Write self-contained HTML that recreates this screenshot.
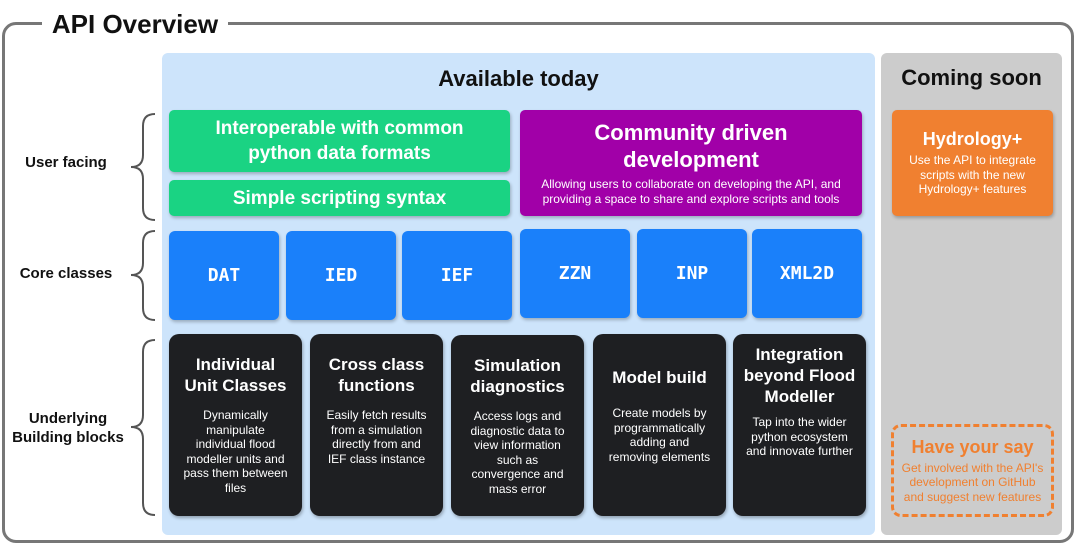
<!DOCTYPE html>
<html><head><meta charset="utf-8"><style>
*{margin:0;padding:0;box-sizing:border-box}
body{width:1076px;height:545px;background:#fff;position:relative;overflow:hidden;font-family:"Liberation Sans","DejaVu Sans",sans-serif}
.a{position:absolute}
.c{display:flex;flex-direction:column;align-items:center;justify-content:center;text-align:center;color:#fff}
.g{background:#1ad383;border-radius:5px;font-weight:bold;font-size:19px;line-height:25px;box-shadow:1px 2px 3px rgba(0,0,0,.25)}
.b{background:#1a80fa;border-radius:6px;font-weight:bold;font-size:18px;font-family:"DejaVu Sans Mono","Liberation Mono",monospace;box-shadow:1px 2px 3px rgba(0,0,0,.25)}
.d{background:#1e1f22;border-radius:10px;justify-content:flex-start;box-shadow:1px 2px 3px rgba(0,0,0,.3)}
.d h3{font-size:17px;line-height:21px;margin-top:20px}
.d p{font-size:12px;line-height:14.6px;margin-top:12px;padding:0 12px}
.l{font-size:15px;font-weight:bold;color:#111;text-align:center;width:120px}
</style></head><body>
<div class="a" style="left:2px;top:22px;width:1072px;height:521px;border:3px solid #777;border-radius:14px"></div>
<div class="a" style="left:42px;top:8px;width:186px;height:30px;background:#fff;font-size:26px;font-weight:bold;color:#111;text-align:center;line-height:32px">API Overview</div>
<div class="a" style="left:162px;top:53px;width:713px;height:482px;background:#cde4fb;border-radius:6px"></div>
<div class="a" style="left:162px;top:66px;width:713px;text-align:center;font-size:22px;font-weight:bold;color:#111">Available today</div>
<div class="a" style="left:881px;top:53px;width:181px;height:482px;background:#cccccc;border-radius:6px"></div>
<div class="a" style="left:881px;top:65px;width:181px;text-align:center;font-size:22px;font-weight:bold;color:#111">Coming soon</div>

<svg class="a" style="left:0;top:0" width="1076" height="545"><g fill="none" stroke="#555" stroke-width="2">
<path d="M155,114 Q143,114 143,126 L143,155 Q143,167 131,167 Q143,167 143,179 L143,208 Q143,220 155,220"/>
<path d="M155,231 Q143,231 143,243 L143,263 Q143,275 131,275 Q143,275 143,287 L143,308 Q143,320 155,320"/>
<path d="M155,340 Q143,340 143,352 L143,415 Q143,427 131,427 Q143,427 143,439 L143,503 Q143,515 155,515"/>
</g></svg>
<div class="a l" style="left:6px;top:154px">User facing</div>
<div class="a l" style="left:6px;top:265px">Core classes</div>
<div class="a l" style="left:8px;top:409px;line-height:19px">Underlying<br>Building blocks</div>

<div class="a c g" style="left:169px;top:110px;width:341px;height:62px">Interoperable with common<br>python data formats</div>
<div class="a c g" style="left:169px;top:180px;width:341px;height:36px">Simple scripting syntax</div>
<div class="a c" style="left:520px;top:110px;width:342px;height:106px;background:#a100a8;border-radius:5px;box-shadow:1px 2px 3px rgba(0,0,0,.25)"><div style="font-size:22px;font-weight:bold;line-height:27px">Community driven<br>development</div><div style="font-size:12px;line-height:15px;margin-top:4px">Allowing users to collaborate on developing the API, and<br>providing a space to share and explore scripts and tools</div></div>

<div class="a c b" style="left:169px;top:231px;width:110px;height:89px">DAT</div>
<div class="a c b" style="left:286px;top:231px;width:110px;height:89px">IED</div>
<div class="a c b" style="left:402px;top:231px;width:110px;height:89px">IEF</div>
<div class="a c b" style="left:520px;top:229px;width:110px;height:89px">ZZN</div>
<div class="a c b" style="left:637px;top:229px;width:110px;height:89px">INP</div>
<div class="a c b" style="left:752px;top:229px;width:110px;height:89px">XML2D</div>

<div class="a c d" style="left:169px;top:334px;width:133px;height:182px"><h3>Individual<br>Unit Classes</h3><p>Dynamically manipulate individual flood modeller units and pass them between files</p></div>
<div class="a c d" style="left:310px;top:334px;width:133px;height:182px"><h3>Cross class<br>functions</h3><p>Easily fetch results from a simulation directly from and IEF class instance</p></div>
<div class="a c d" style="left:451px;top:335px;width:133px;height:181px"><h3>Simulation<br>diagnostics</h3><p>Access logs and diagnostic data to view information such as convergence and mass error</p></div>
<div class="a c d" style="left:593px;top:334px;width:133px;height:182px"><h3 style="margin-top:33px">Model build</h3><p style="margin-top:18px">Create models by programmatically adding and removing elements</p></div>
<div class="a c d" style="left:733px;top:334px;width:133px;height:182px"><h3 style="margin-top:10px">Integration<br>beyond Flood<br>Modeller</h3><p style="margin-top:8px">Tap into the wider python ecosystem and innovate further</p></div>

<div class="a c" style="left:892px;top:110px;width:161px;height:106px;background:#f08030;border-radius:5px;box-shadow:1px 2px 3px rgba(0,0,0,.25)"><div style="font-size:18px;font-weight:bold">Hydrology+</div><div style="font-size:12px;line-height:14.5px;margin-top:3px">Use the API to integrate<br>scripts with the new<br>Hydrology+ features</div></div>
<div class="a c" style="left:891px;top:424px;width:163px;height:93px;border:3px dashed #f08030;border-radius:10px;color:#f08030"><div style="font-size:18px;font-weight:bold">Have your say</div><div style="font-size:12px;line-height:14.5px;margin-top:3px">Get involved with the API's<br>development on GitHub<br>and suggest new features</div></div>
</body></html>
